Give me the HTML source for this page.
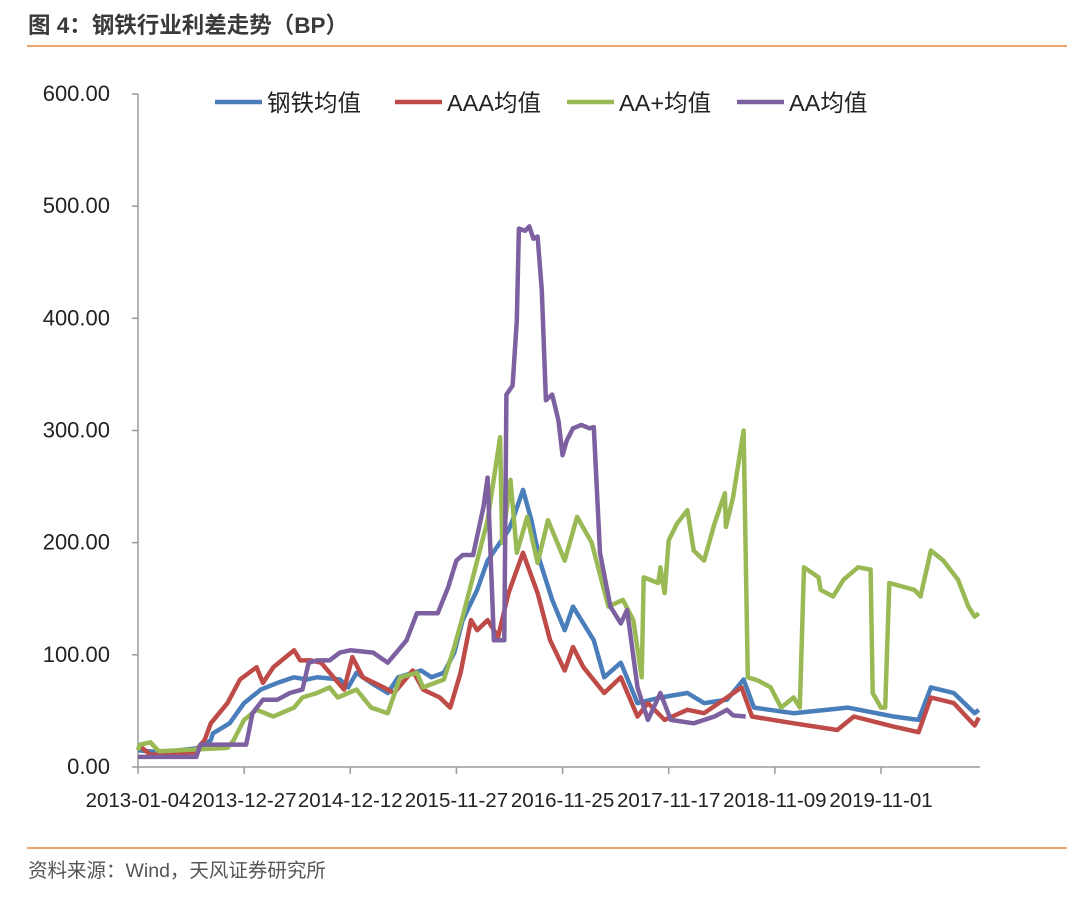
<!DOCTYPE html>
<html><head><meta charset="utf-8"><style>
body{margin:0;background:#fff;}
svg text{font-family:"Liberation Sans","Noto Sans CJK SC",sans-serif;}
</style></head><body>
<svg id="chart" width="1080" height="896" xmlns="http://www.w3.org/2000/svg">
<text x="28" y="33" font-size="22.5" font-weight="bold" fill="#3a3a3a">图 4：钢铁行业利差走势（BP）</text>
<line x1="27" y1="46" x2="1067" y2="46" stroke="#E8873A" stroke-width="1.5"/>
<line x1="27" y1="848" x2="1067" y2="848" stroke="#E8873A" stroke-width="1.5"/>
<text x="28" y="877" font-size="19.5" fill="#555">资料来源：Wind，天风证券研究所</text>
<g id="axes"></g>
<g id="series"></g>
<g id="legend"></g>
</svg>
<script>
const xTickLabels=["2013-01-04","2013-12-27","2014-12-12","2015-11-27","2016-11-25","2017-11-17","2018-11-09","2019-11-01"];
const xTickWeeks=[0,51,102,153,204,255,306,357];
const yTicks=[0,100,200,300,400,500,600];
const steelWeeks=[0,11,30,35,36,44,51,59,67,75,81,86,97,101,105,112,120,125,136,141,147,152,156,163,168,178,180,185,189,193,199,205,209,219,224,232,240,251,264,272,283,291,296,315,341,363,375,381,392,402,404];
const steelVals=[15,13,17,24,30,39,57,69,75,80,78,80,78,71,84,75,66,80,86,80,84,102,131,158,184,211,220,247,220,184,149,122,143,113,80,93,57,62,66,57,60,78,53,48,53,45,42,71,66,48,51];
const aaaWeeks=[0,6,27,32,35,43,49,57,60,65,75,78,83,88,94,99,103,108,118,123,132,137,145,150,155,160,163,168,173,178,185,192,198,205,209,214,224,232,240,245,253,264,272,290,295,315,336,344,363,375,381,392,402,404];
const aaaVals=[20,11,13,24,39,57,78,89,75,89,104,95,95,93,80,69,98,80,71,66,86,69,62,53,84,131,122,131,116,155,191,155,113,86,107,89,66,80,45,57,42,51,48,71,45,39,33,45,36,31,62,57,37,44];
const aaPlusWeeks=[0,1,6,10,43,46,51,57,65,75,79,86,92,96,105,112,120,126,134,137,147,152,156,163,168,174,175,179,182,187,192,197,205,211,218,226,233,238,242,243,250,251,253,255,259,264,267,272,277,282,282.5,286,291,293,298,304,309,315,318,320,327,328,334,339,346,352,353,357,359,361,373,376,381,387,394,399,402,404];
const aaPlusVals=[15,20,22,14,17,24,42,51,45,53,62,66,71,62,69,53,48,80,84,71,78,107,134,184,220,294,200,256,191,223,182,220,184,223,200,143,149,131,80,169,164,178,155,202,217,229,193,184,217,244,214,241,300,80,77,71,53,62,53,178,169,158,152,167,178,176,66,53,53,164,158,152,193,184,167,143,134,137];
const aaWeeks=[0,28,30,52,55,60,67,73,79,82,86,92,97,102,113,120,125,129,134,144,149,153,156,161,166,168,171,176,177,180,182,183,186,188,190,192,194,196,199,202,204,206,209,213,217,219,222,227,232,235,240,245,251,256,267,277,283,286,292];
const aaVals=[9,9,20,20,48,60,60,66,69,93,95,95,102,104,102,93,104,113,137,137,160,184,189,189,232,258,113,113,332,340,398,480,478,482,471,473,425,327,332,309,278,291,302,305,302,303,191,143,128,140,71,42,66,42,39,45,51,46,45];

const X0=138,X1=980,Y0=767,YTOP=94;
function xs(w){return X0+w*(881-138)/357;}
function ys(v){return Y0-(v/600)*(Y0-YTOP);}
const NS="http://www.w3.org/2000/svg";
const axes=document.getElementById('axes');
function mk(tag,attrs,parent){const e=document.createElementNS(NS,tag);for(const k in attrs)e.setAttribute(k,attrs[k]);parent.appendChild(e);return e;}
let yl=mk('line',{x1:X0,y1:YTOP,x2:X0,y2:Y0,stroke:'#9a9a9a','stroke-width':1.5},axes);


let xl=mk('line',{x1:X0,y1:Y0,x2:X1,y2:Y0,stroke:'#9a9a9a','stroke-width':1.5},axes);


yTicks.forEach(v=>{
  const y=ys(v);
  let t=mk('line',{x1:X0-6,y1:y,x2:X0,y2:y,stroke:'#9a9a9a','stroke-width':1.5},axes);
  
  
  let tx=mk('text',{x:110,y:y+7,'font-size':22,'text-anchor':'end',fill:'#222'},axes);
  tx.textContent=v.toFixed(2);
  
  
});
xTickWeeks.forEach((w,i)=>{
  const x=xs(w);
  let t=mk('line',{x1:x,y1:Y0,x2:x,y2:Y0+7,stroke:'#9a9a9a','stroke-width':1.5},axes);
  
  
  let tx=mk('text',{x:x,y:807,'font-size':20.5,'text-anchor':'middle',fill:'#222'},axes);
  tx.textContent=xTickLabels[i];
  
  
});
const ser=document.getElementById('series');
const defs=[
 ['steel-avg-line','#4A7EBB',steelWeeks,steelVals],
 ['aaa-avg-line','#BE4B48',aaaWeeks,aaaVals],
 ['aa-plus-avg-line','#98B954',aaPlusWeeks,aaPlusVals],
 ['aa-avg-line','#7D60A0',aaWeeks,aaVals]];
defs.forEach(d=>{
  const pts=d[2].map((w,i)=>xs(w).toFixed(1)+','+ys(d[3][i]).toFixed(1)).join(' ');
  let p=mk('polyline',{points:pts,fill:'none',stroke:d[1],'stroke-width':4.5,'stroke-linejoin':'round'},ser);
  
  
});
const leg=document.getElementById('legend');
const legItems=[['钢铁均值','#4A7EBB',215],['AAA均值','#BE4B48',395],['AA+均值','#98B954',567],['AA均值','#7D60A0',737]];
legItems.forEach(l=>{
  let g=mk('g',{},leg);
  
  
  mk('line',{x1:l[2],y1:102,x2:l[2]+47,y2:102,stroke:l[1],'stroke-width':4.5},g);
  let t=mk('text',{x:l[2]+52,y:111,'font-size':23.5,fill:'#222'},g);
  t.textContent=l[0];
});
</script>
</body></html>
